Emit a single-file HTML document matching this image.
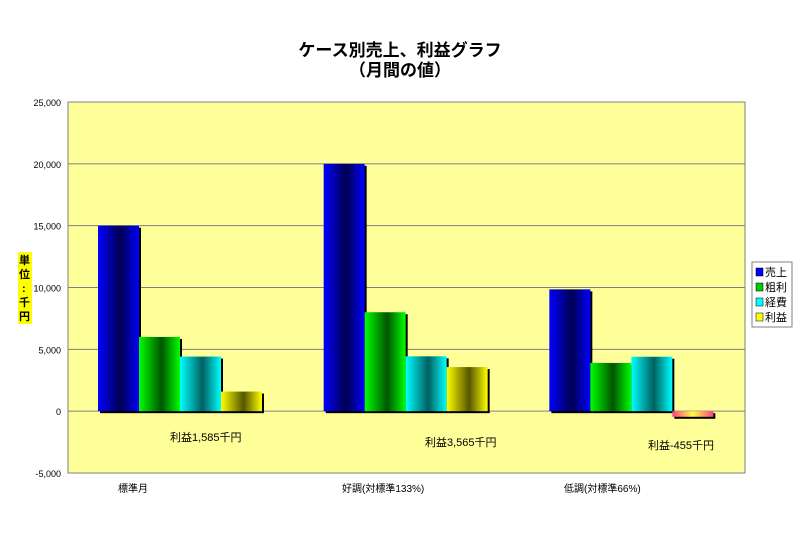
<!DOCTYPE html>
<html><head><meta charset="utf-8"><style>
body{margin:0;background:#fff;}
svg text{font-family:"Liberation Sans","Noto Sans CJK JP",sans-serif;}
</style></head><body>
<svg width="800" height="549" xmlns="http://www.w3.org/2000/svg">
<defs>
<linearGradient id="g0" x1="0" x2="1"><stop offset="0" stop-color="#0000ff"/><stop offset="0.55" stop-color="#000050"/><stop offset="1" stop-color="#0000ff"/></linearGradient>
<linearGradient id="g1" x1="0" x2="1"><stop offset="0" stop-color="#00ff00"/><stop offset="0.55" stop-color="#005500"/><stop offset="1" stop-color="#00ff00"/></linearGradient>
<linearGradient id="g2" x1="0" x2="1"><stop offset="0" stop-color="#00ffff"/><stop offset="0.55" stop-color="#006060"/><stop offset="1" stop-color="#00ffff"/></linearGradient>
<linearGradient id="g3" x1="0" x2="1"><stop offset="0" stop-color="#ffff00"/><stop offset="0.55" stop-color="#555500"/><stop offset="1" stop-color="#ffff00"/></linearGradient>
<linearGradient id="gneg" x1="0" x2="1"><stop offset="0" stop-color="#ff4080"/><stop offset="0.5" stop-color="#ffff40"/><stop offset="1" stop-color="#ff4080"/></linearGradient>
</defs>
<text x="400" y="56" text-anchor="middle" font-size="17" font-weight="bold">ケース別売上、利益グラフ</text>
<text x="400" y="76" text-anchor="middle" font-size="17" font-weight="bold">（月間の値）</text>
<rect x="68" y="102" width="677" height="371" fill="#ffff99" stroke="#808080"/>
<g id="grid"></g>
<g id="bars"></g>
<g id="labels"></g>
<rect x="18" y="252" width="14" height="72" fill="#ffff00"/>
<text font-size="11" font-weight="bold">
<tspan x="19" y="264">単</tspan><tspan x="19" y="278">位</tspan><tspan x="22" y="292">:</tspan><tspan x="19" y="306">千</tspan><tspan x="19" y="320">円</tspan></text>
<g>
<rect x="752" y="262" width="40" height="65" fill="#fff" stroke="#808080"/>
<g id="legend"></g>
</g>
<text x="170" y="441" font-size="11">利益1,585千円</text>
<text x="425" y="446" font-size="11">利益3,565千円</text>
<text x="648" y="449" font-size="11">利益-455千円</text>
</svg>
<script>
const categories=["標準月","好調(対標準133%)","低調(対標準66%)"];
const seriesNames=["売上","粗利","経費","利益"];
const sales=[15000,20000,9850];
const grossProfit=[6000,8000,3900];
const expenses=[4415,4435,4400];
const profit=[1585,3565,-455];
const yTicks=[25000,20000,15000,10000,5000,0,-5000];
const yTickLabels=["25,000","20,000","15,000","10,000","5,000","0","-5,000"];
const series=[sales,grossProfit,expenses,profit];
const NS="http://www.w3.org/2000/svg";
const L=68,R=745,T=102,B=473,yMin=-5000,yMax=25000;
const y=v=>B-(v-yMin)/(yMax-yMin)*(B-T);
const gw=(R-L)/categories.length;
const x=(c,s)=>L+c*gw+30+s*41;
function mk(tag,attrs,parent){const e=document.createElementNS(NS,tag);for(const k in attrs)e.setAttribute(k,attrs[k]);parent.appendChild(e);return e;}
const grid=document.getElementById('grid'),bars=document.getElementById('bars'),labels=document.getElementById('labels'),legend=document.getElementById('legend');
yTicks.forEach((t,i)=>{
  if(t!==yMax&&t!==yMin){const l=mk('line',{x1:L,x2:R,y1:y(t),y2:y(t),stroke:'#808080','stroke-width':1},grid);
  
  }
  const tx=mk('text',{x:61,y:y(t)+4,'text-anchor':'end','font-size':9},labels);tx.textContent=yTickLabels[i];
  
  
});
const catX=[118,342,564];
categories.forEach((c,i)=>{
  const tx=mk('text',{x:catX[i],y:492,'font-size':10},labels);tx.textContent=c;
  
  
});
series.forEach((vals,s)=>{
  vals.forEach((v,c)=>{
    const x0=x(c,s),top=Math.min(y(v),y(0)),h=Math.abs(y(v)-y(0));
    const sh=mk('rect',{x:x0+2,y:top+2,width:41,height:h,fill:'#000'},bars);
    
    
    const r=mk('rect',{x:x0,y:top,width:41,height:h,fill:v<0?'url(#gneg)':'url(#g'+s+')'},bars);
    
    
  });
});
const lc=['#0000ff','#00cc00','#00ffff','#ffff00'];
seriesNames.forEach((n,i)=>{
  const yy=266+i*15;
  const r=mk('rect',{x:756,y:yy+2,width:7,height:8,fill:lc[i],stroke:'#000','stroke-width':0.5},legend);
  
  
  const t=mk('text',{x:765,y:yy+10,'font-size':11},legend);t.textContent=n;
  
  
});
</script>
</body></html>
